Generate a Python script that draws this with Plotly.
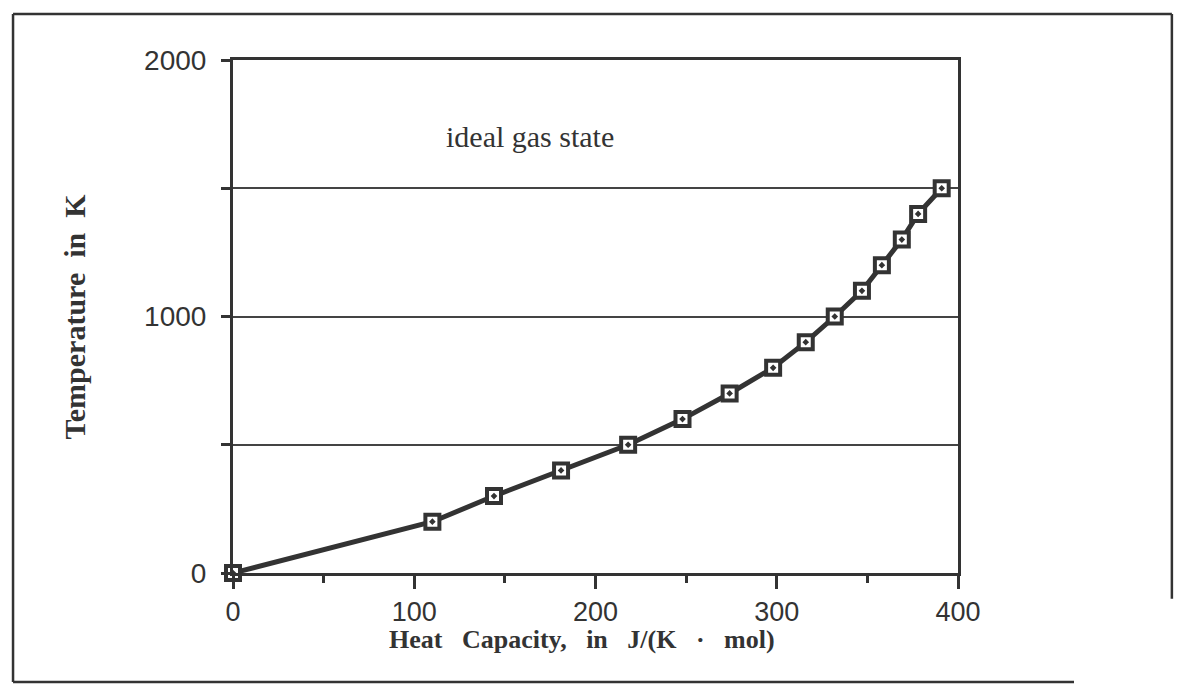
import plotly.graph_objects as go

# Heat capacity vs temperature (ideal gas state)
heat_capacity = [0, 110, 144, 181, 218, 248, 274, 298, 316, 332, 347, 358, 369, 378, 391]
temperature = [0, 200, 300, 400, 500, 600, 700, 800, 900, 1000, 1100, 1200, 1300, 1400, 1500]

x_ticks = [0, 100, 200, 300, 400]
y_ticks = [0, 500, 1000, 1500, 2000]
y_tick_text = ["0", "", "1000", "", "2000"]

INK = "#333333"
SERIF = "Liberation Serif"
SANS = "Liberation Sans"

fig = go.Figure()
fig.add_trace(go.Scatter(
    x=heat_capacity,
    y=temperature,
    mode="lines+markers",
    line=dict(color=INK, width=5),
    marker=dict(symbol="square-dot", size=14, color="white",
                line=dict(color=INK, width=4)),
    showlegend=False,
    cliponaxis=False,
))

fig.add_annotation(
    x=164, y=1700, xref="x", yref="y",
    text="ideal gas state", showarrow=False,
    font=dict(family=SERIF, size=30, color=INK),
)

# axis titles
fig.add_annotation(
    x=0.481, y=-0.13, xref="paper", yref="paper",
    text="<b>Heat   Capacity,   in   J/(K   ·   mol)</b>",
    showarrow=False, xanchor="center", yanchor="middle",
    font=dict(family=SERIF, size=26, color=INK),
)
fig.add_annotation(
    x=-0.218, y=0.5, xref="paper", yref="paper",
    text="<b>Temperature  in  K</b>", textangle=-90,
    showarrow=False, xanchor="center", yanchor="middle",
    font=dict(family=SERIF, size=30, color=INK),
)

# outer frame of the figure (open at the lower right corner)
frame = dict(color=INK, width=2.5)
fig.add_shape(type="line", xref="paper", yref="paper",
              x0=-0.3034, x1=-0.3034, y0=-0.2125, y1=1.0897, line=frame)
fig.add_shape(type="line", xref="paper", yref="paper",
              x0=-0.3034, x1=1.295, y0=1.0897, y1=1.0897, line=frame)
fig.add_shape(type="line", xref="paper", yref="paper",
              x0=1.295, x1=1.295, y0=-0.05, y1=1.0897, line=frame)
fig.add_shape(type="line", xref="paper", yref="paper",
              x0=-0.3034, x1=1.16, y0=-0.2125, y1=-0.2125, line=frame)

fig.update_layout(
    width=1183, height=689,
    margin=dict(l=233, r=225, t=60, b=116),
    paper_bgcolor="white", plot_bgcolor="white",
    font=dict(family=SANS, size=28, color=INK),
)

fig.update_xaxes(
    range=[0, 400], tickvals=x_ticks,
    ticks="outside", ticklen=13, tickwidth=3, tickcolor=INK,
    minor=dict(dtick=50, ticks="outside", ticklen=7, tickwidth=3, tickcolor=INK, showgrid=False),
    showline=True, linecolor=INK, linewidth=3, mirror=True,
    showgrid=False, zeroline=False,
    ticklabelstandoff=0,
    tickfont=dict(family=SANS, size=27, color=INK),
)

fig.update_yaxes(
    range=[0, 2000], tickvals=y_ticks, ticktext=y_tick_text,
    ticks="outside", ticklen=9, tickwidth=3, tickcolor=INK,
    showline=True, linecolor=INK, linewidth=3, mirror=True,
    showgrid=True, gridcolor="#444444", gridwidth=1.8, zeroline=False,
    ticklabelstandoff=9,
    tickfont=dict(family=SANS, size=28, color=INK),
)

fig.write_html("out.html")
